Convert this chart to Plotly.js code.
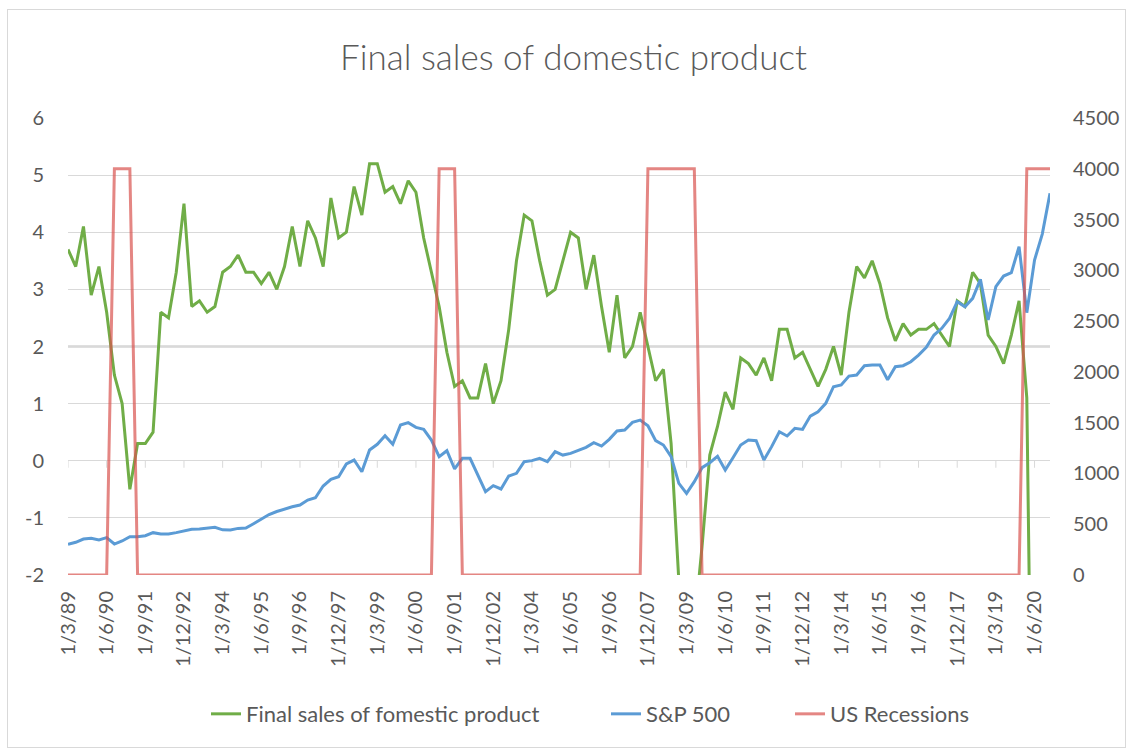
<!DOCTYPE html>
<html>
<head>
<meta charset="utf-8">
<script src="https://cdn.plot.ly/plotly-3.0.1.min.js"></script>
<style>
  html, body { margin: 0; padding: 0; background: #ffffff; }
  #wrap { position: relative; width: 1132px; height: 754px; }
  #chart { width: 1132px; height: 754px; }
  #frame { position: absolute; left: 7px; top: 9px; width: 1117px; height: 737px; border: 1px solid #d9d9d9; pointer-events: none; }
</style>
</head>
<body>
<div id="wrap"><div id="chart"></div><div id="frame"></div></div>
<script>
// Quarterly categories (d/m/yy)
const categories = [
  "1/3/89","1/6/89","1/9/89","1/12/89","1/3/90","1/6/90","1/9/90","1/12/90",
  "1/3/91","1/6/91","1/9/91","1/12/91","1/3/92","1/6/92","1/9/92","1/12/92",
  "1/3/93","1/6/93","1/9/93","1/12/93","1/3/94","1/6/94","1/9/94","1/12/94",
  "1/3/95","1/6/95","1/9/95","1/12/95","1/3/96","1/6/96","1/9/96","1/12/96",
  "1/3/97","1/6/97","1/9/97","1/12/97","1/3/98","1/6/98","1/9/98","1/12/98",
  "1/3/99","1/6/99","1/9/99","1/12/99","1/3/00","1/6/00","1/9/00","1/12/00",
  "1/3/01","1/6/01","1/9/01","1/12/01","1/3/02","1/6/02","1/9/02","1/12/02",
  "1/3/03","1/6/03","1/9/03","1/12/03","1/3/04","1/6/04","1/9/04","1/12/04",
  "1/3/05","1/6/05","1/9/05","1/12/05","1/3/06","1/6/06","1/9/06","1/12/06",
  "1/3/07","1/6/07","1/9/07","1/12/07","1/3/08","1/6/08","1/9/08","1/12/08",
  "1/3/09","1/6/09","1/9/09","1/12/09","1/3/10","1/6/10","1/9/10","1/12/10",
  "1/3/11","1/6/11","1/9/11","1/12/11","1/3/12","1/6/12","1/9/12","1/12/12",
  "1/3/13","1/6/13","1/9/13","1/12/13","1/3/14","1/6/14","1/9/14","1/12/14",
  "1/3/15","1/6/15","1/9/15","1/12/15","1/3/16","1/6/16","1/9/16","1/12/16",
  "1/3/17","1/6/17","1/9/17","1/12/17","1/3/18","1/6/18","1/9/18","1/12/18",
  "1/3/19","1/6/19","1/9/19","1/12/19","1/3/20","1/6/20","1/9/20","1/12/20"
];

const tickLabels = [
  "1/3/89","1/6/90","1/9/91","1/12/92","1/3/94","1/6/95","1/9/96","1/12/97",
  "1/3/99","1/6/00","1/9/01","1/12/02","1/3/04","1/6/05","1/9/06","1/12/07",
  "1/3/09","1/6/10","1/9/11","1/12/12","1/3/14","1/6/15","1/9/16","1/12/17",
  "1/3/19","1/6/20"
];

const leftTickVals = [-2, -1, 0, 1, 2, 3, 4, 5, 6];
const leftTickText = ["-2", "-1", "0", "1", "2", "3", "4", "5", "6"];

// Final sales of domestic product (left axis, %)
const finalSales = [
  3.7, 3.4, 4.1, 2.9, 3.4, 2.6, 1.5, 1.0,
  -0.5, 0.3, 0.3, 0.5, 2.6, 2.5, 3.3, 4.5,
  2.7, 2.8, 2.6, 2.7, 3.3, 3.4, 3.6, 3.3,
  3.3, 3.1, 3.3, 3.0, 3.4, 4.1, 3.4, 4.2,
  3.9, 3.4, 4.6, 3.9, 4.0, 4.8, 4.3, 5.2,
  5.2, 4.7, 4.8, 4.5, 4.9, 4.7, 3.9, 3.3,
  2.7, 1.9, 1.3, 1.4, 1.1, 1.1, 1.7, 1.0,
  1.4, 2.3, 3.5, 4.3, 4.2, 3.5, 2.9, 3.0,
  3.5, 4.0, 3.9, 3.0, 3.6, 2.7, 1.9, 2.9,
  1.8, 2.0, 2.6, 2.0, 1.4, 1.6, 0.3, -2.1,
  -3.0, -2.9, -1.5, 0.1, 0.6, 1.2, 0.9, 1.8,
  1.7, 1.5, 1.8, 1.4, 2.3, 2.3, 1.8, 1.9,
  1.6, 1.3, 1.6, 2.0, 1.5, 2.6, 3.4, 3.2,
  3.5, 3.1, 2.5, 2.1, 2.4, 2.2, 2.3, 2.3,
  2.4, 2.2, 2.0, 2.8, 2.7, 3.3, 3.1, 2.2,
  2.0, 1.7, 2.2, 2.8, 1.1, -9.2, null, null
];

// S&P 500 (right axis)
const sp500 = [
  302, 322, 354, 361, 345, 368, 305, 335,
  377, 377, 387, 417, 404, 404, 417, 436,
  450, 453, 459, 469, 445, 443, 459, 462,
  505, 550, 595, 625, 650, 672, 689, 738,
  761, 876, 942, 968, 1093, 1132, 1017, 1231,
  1287, 1372, 1287, 1477, 1500, 1454, 1434, 1329,
  1165, 1224, 1044, 1149, 1149, 985, 820, 880,
  847, 975, 1001, 1116, 1126, 1149, 1116, 1214,
  1181, 1198, 1231, 1257, 1303, 1270, 1336, 1418,
  1428, 1503, 1526, 1470, 1323, 1280, 1165, 903,
  804, 919, 1057, 1106, 1168, 1034, 1155, 1280,
  1329, 1323, 1132, 1264, 1411, 1369, 1444, 1434,
  1565, 1608, 1690, 1854, 1871, 1959, 1969, 2061,
  2067, 2067, 1923, 2051, 2061, 2100, 2166, 2241,
  2363, 2429, 2527, 2691, 2642, 2724, 2911, 2511,
  2839, 2944, 2977, 3233, 2583, 3101, 3357, 3758
];

// US Recessions (right axis)
const recessions = [
  0, 0, 0, 0, 0, 0, 4000, 4000,
  4000, 0, 0, 0, 0, 0, 0, 0,
  0, 0, 0, 0, 0, 0, 0, 0,
  0, 0, 0, 0, 0, 0, 0, 0,
  0, 0, 0, 0, 0, 0, 0, 0,
  0, 0, 0, 0, 0, 0, 0, 0,
  4000, 4000, 4000, 0, 0, 0, 0, 0,
  0, 0, 0, 0, 0, 0, 0, 0,
  0, 0, 0, 0, 0, 0, 0, 0,
  0, 0, 0, 4000, 4000, 4000, 4000, 4000,
  4000, 4000, 0, 0, 0, 0, 0, 0,
  0, 0, 0, 0, 0, 0, 0, 0,
  0, 0, 0, 0, 0, 0, 0, 0,
  0, 0, 0, 0, 0, 0, 0, 0,
  0, 0, 0, 0, 0, 0, 0, 0,
  0, 0, 0, 0, 4000, 4000, 4000, 4000
];

const seriesNames = ["Final sales of fomestic product", "S&P 500", "US Recessions"];
const titleText = "Final sales of domestic product";

const FONT = "Lato, 'Open Sans', sans-serif";
const TXT = "#595959";
const GRID = "#d9d9d9";

const traces = [
  { x: categories, y: finalSales, name: seriesNames[0], type: "scatter", mode: "lines",
    line: { color: "#70ad47", width: 3 }, yaxis: "y", legend: "legend" },
  { x: categories, y: sp500, name: seriesNames[1], type: "scatter", mode: "lines",
    line: { color: "#5b9bd5", width: 3 }, yaxis: "y2", legend: "legend2" },
  { x: categories, y: recessions, name: seriesNames[2], type: "scatter", mode: "lines",
    line: { color: "rgba(217,83,79,0.7)", width: 3 }, yaxis: "y2", legend: "legend3" }
];

// small tick marks hanging from the y=0 axis line
const zeroTicks = tickLabels.map(t => ({
  type: "line", xref: "x", yref: "y",
  x0: categories.indexOf(t), x1: categories.indexOf(t),
  ysizemode: "pixel", yanchor: 0, y0: 0, y1: -7,
  line: { color: GRID, width: 1 }, layer: "below"
}));

function legendAt(xFrac) {
  return { orientation: "h", xref: "container", yref: "container",
           x: xFrac, xanchor: "left", y: 0.053, yanchor: "middle",
           font: { family: FONT, size: 22, color: TXT }, bgcolor: "rgba(0,0,0,0)" };
}

const layout = {
  width: 1132, height: 754,
  margin: { l: 68, r: 82, t: 118, b: 179 },
  paper_bgcolor: "#ffffff", plot_bgcolor: "#ffffff",
  font: { family: FONT, color: TXT, size: 20 },
  title: { text: titleText, font: { family: FONT, size: 35, color: TXT, weight: 300 },
           xref: "container", x: 0.5066, xanchor: "center",
           yref: "container", y: 0.924, yanchor: "middle" },
  showlegend: true,
  legend: legendAt(206 / 1132),
  legend2: legendAt(606 / 1132),
  legend3: legendAt(790 / 1132),
  xaxis: { type: "category", range: [0, categories.length - 1],
           tickmode: "array", tickvals: tickLabels, ticktext: tickLabels,
           tickangle: -90, showgrid: false, zeroline: false, showline: false,
           ticks: "", ticklabelstandoff: 11,
           tickfont: { family: FONT, size: 20, color: TXT } },
  yaxis: { range: [-2, 6], tickmode: "array", tickvals: leftTickVals, ticktext: leftTickText,
           showgrid: true, gridcolor: GRID, gridwidth: 1,
           zeroline: true, zerolinecolor: GRID, zerolinewidth: 1, showline: false, ticks: "",
           ticklabelstandoff: 23, tickfont: { family: FONT, size: 20, color: TXT } },
  yaxis2: { overlaying: "y", side: "right", range: [0, 4500], dtick: 500, tick0: 0,
            showgrid: false, zeroline: false, showline: false, ticks: "",
            ticklabelstandoff: 22, tickfont: { family: FONT, size: 20, color: TXT } },
  shapes: [
    { type: "line", xref: "paper", yref: "y", x0: 0, x1: 1, y0: 2, y1: 2,
      line: { color: "#bfbfbf", width: 2 }, layer: "below" }
  ].concat(zeroTicks)
};

Plotly.newPlot("chart", traces, layout, { displayModeBar: false, staticPlot: true });
</script>
</body>
</html>
